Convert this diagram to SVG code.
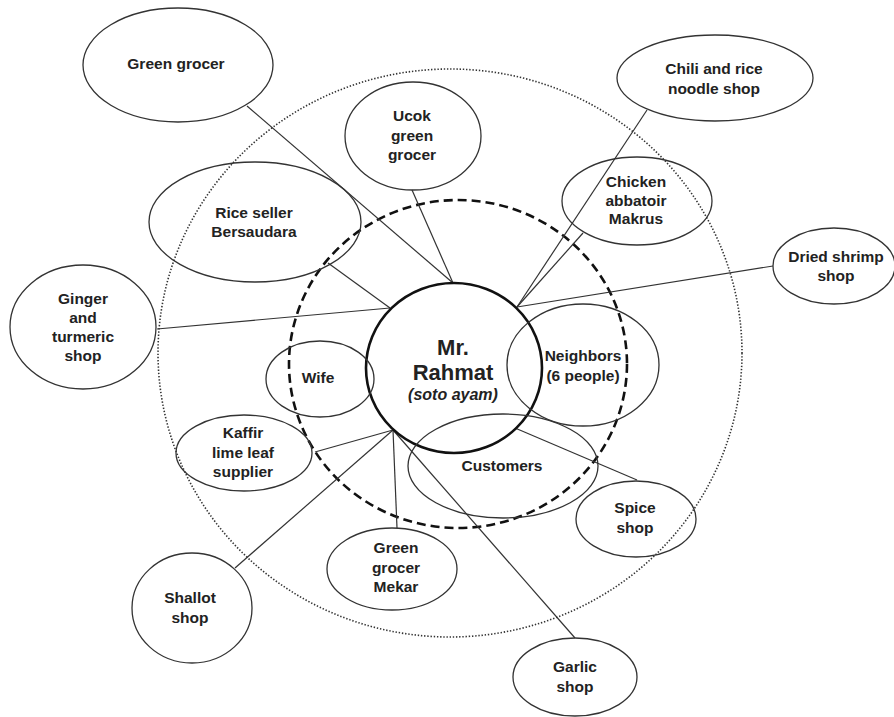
<svg xmlns="http://www.w3.org/2000/svg" width="894" height="717" viewBox="0 0 894 717">
<style>
.n{fill:none;stroke:#333;stroke-width:1.3}
.t{font-family:"Liberation Sans",Arial,sans-serif;font-weight:bold;font-size:15.5px;fill:#222;text-anchor:middle}
.big{font-size:22px}
.it{font-size:16px;font-style:italic}
.c line{stroke:#333;stroke-width:1.2}
</style>
<rect width="894" height="717" fill="#fff"/>
<ellipse cx="450" cy="353" rx="292" ry="284" fill="none" stroke="#333" stroke-width="1.6" stroke-dasharray="1.4 1.8"/>
<ellipse cx="458" cy="364" rx="169" ry="164" fill="none" stroke="#111" stroke-width="2.6" stroke-dasharray="9 5"/>
<g class="c" id="connectors">
<line x1="247" y1="106" x2="453" y2="283"/>
<line x1="412" y1="190" x2="453" y2="283"/>
<line x1="328" y1="263" x2="390" y2="308"/>
<line x1="157" y1="329" x2="390" y2="308"/>
<line x1="647" y1="110" x2="517" y2="307"/>
<line x1="583" y1="233" x2="517" y2="307"/>
<line x1="773" y1="266" x2="517" y2="307"/>
<line x1="637" y1="480" x2="515" y2="428"/>
<line x1="315" y1="452" x2="393" y2="430"/>
<line x1="235" y1="568" x2="393" y2="430"/>
<line x1="397" y1="528" x2="393" y2="430"/>
<line x1="575" y1="638" x2="393" y2="430"/>
</g>
<g id="rahmat"><ellipse cx="454" cy="368" rx="88" ry="85" fill="none" stroke="#111" stroke-width="2.6"/>
<text class="t big" x="453" y="355">Mr.</text><text class="t big" x="453" y="380">Rahmat</text><text class="t it" x="453" y="400">(soto ayam)</text></g>
<g id="greengrocer"><ellipse class="n" cx="178" cy="65" rx="95" ry="57"/><text class="t" x="176" y="69">Green grocer</text></g>
<g id="ucok"><ellipse class="n" cx="413" cy="136" rx="68" ry="54"/><text class="t" x="412" y="121">Ucok</text><text class="t" x="412" y="141">green</text><text class="t" x="412" y="160">grocer</text></g>
<g id="rice"><ellipse class="n" cx="255" cy="222" rx="106" ry="60"/><text class="t" x="254" y="218">Rice seller</text><text class="t" x="254" y="237">Bersaudara</text></g>
<g id="ginger"><ellipse class="n" cx="83" cy="327" rx="73" ry="62"/><text class="t" x="83" y="304">Ginger</text><text class="t" x="83" y="323">and</text><text class="t" x="83" y="342">turmeric</text><text class="t" x="83" y="361">shop</text></g>
<g id="chili"><ellipse class="n" cx="715" cy="78" rx="98" ry="43"/><text class="t" x="714" y="74">Chili and rice</text><text class="t" x="714" y="94">noodle shop</text></g>
<g id="chicken"><ellipse class="n" cx="637" cy="201" rx="75" ry="44"/><text class="t" x="636" y="187">Chicken</text><text class="t" x="636" y="206">abbatoir</text><text class="t" x="636" y="224">Makrus</text></g>
<g id="shrimp"><ellipse class="n" cx="834" cy="266" rx="61" ry="38"/><text class="t" x="836" y="262">Dried shrimp</text><text class="t" x="836" y="281">shop</text></g>
<g id="neighbors"><ellipse class="n" cx="583" cy="365" rx="76" ry="61"/><text class="t" x="583" y="361">Neighbors</text><text class="t" x="583" y="381">(6 people)</text></g>
<g id="customers"><ellipse class="n" cx="503" cy="466" rx="95" ry="52"/><text class="t" x="502" y="471">Customers</text></g>
<g id="wife"><ellipse class="n" cx="320" cy="379" rx="54" ry="38"/><text class="t" x="318" y="383">Wife</text></g>
<g id="kaffir"><ellipse class="n" cx="244" cy="453" rx="68" ry="38"/><text class="t" x="243" y="438">Kaffir</text><text class="t" x="243" y="458">lime leaf</text><text class="t" x="243" y="477">supplier</text></g>
<g id="mekar"><ellipse class="n" cx="392" cy="569" rx="65" ry="41"/><text class="t" x="396" y="553">Green</text><text class="t" x="396" y="573">grocer</text><text class="t" x="396" y="592">Mekar</text></g>
<g id="shallot"><ellipse class="n" cx="192" cy="608" rx="60" ry="55"/><text class="t" x="190" y="603">Shallot</text><text class="t" x="190" y="623">shop</text></g>
<g id="spice"><ellipse class="n" cx="636" cy="519" rx="60" ry="38"/><text class="t" x="635" y="513">Spice</text><text class="t" x="635" y="533">shop</text></g>
<g id="garlic"><ellipse class="n" cx="575" cy="677" rx="62" ry="39"/><text class="t" x="575" y="672">Garlic</text><text class="t" x="575" y="692">shop</text></g>
</svg>
